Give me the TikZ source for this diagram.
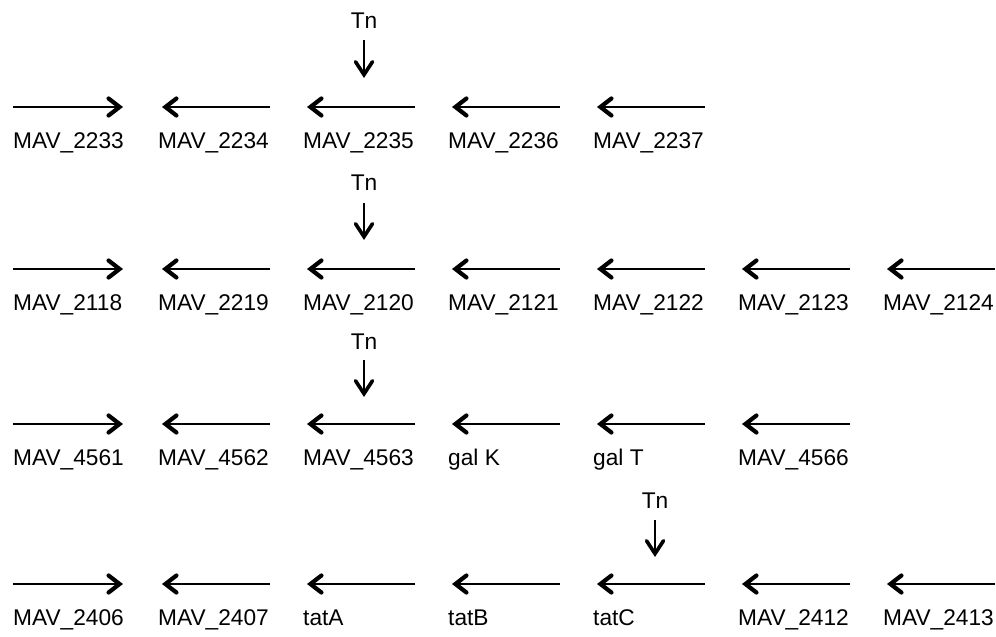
\documentclass[tikz,border=0pt]{standalone}
\usepackage{fontspec}
\setmainfont{Liberation Sans}
\usetikzlibrary{arrows.meta}
\tikzset{
  gene/.style={anchor=base west, inner sep=0pt, font=\fontsize{22.7}{25}\selectfont},
  tnlabel/.style={anchor=base, inner sep=0pt, font=\fontsize{22.7}{25}\selectfont},
  orf/.style={line width=2.3pt, -{Straight Barb[length=11pt,width=17pt,line width=4.2pt,line cap=round]}},
  insert/.style={line width=2pt, -{Straight Barb[length=13pt,width=17pt,line width=3.6pt,line cap=round]}}
}
\begin{document}
\begin{tikzpicture}[x=1pt,y=-1pt]
\useasboundingbox (0,0) rectangle (996,637);
% one row per locus: arrow height, label baseline, number of reverse genes, names
\foreach \r/\ay/\ly/\n/\names in {
  1/107/148/4/{MAV\_2233,MAV\_2234,MAV\_2235,MAV\_2236,MAV\_2237},
  2/269/310/6/{MAV\_2118,MAV\_2219,MAV\_2120,MAV\_2121,MAV\_2122,MAV\_2123,MAV\_2124},
  3/424/465/5/{MAV\_4561,MAV\_4562,MAV\_4563,gal K,gal T,MAV\_4566},
  4/584/625/6/{MAV\_2406,MAV\_2407,tatA,tatB,tatC,MAV\_2412,MAV\_2413}}{
  \foreach \g [count=\i from 0] in \names {
    \node[gene] (g\r-\i) at ({13+145*\i},\ly) {\g};
  }
  % first gene reads forward
  \coordinate (s\r-0) at (13,\ay);
  \coordinate (e\r-0) at (123,\ay);
  \draw[orf] (s\r-0) -- (e\r-0);
  % the rest read in reverse
  \foreach \i in {1,...,\n}{
    \coordinate (s\r-\i) at ({270+145*(\i-1)},\ay);
    \coordinate (e\r-\i) at ({162+145*(\i-1)},\ay);
    \draw[orf] (s\r-\i) -- (e\r-\i);
  }
}
% transposon insertion sites
\foreach \k/\x/\ty/\ya/\yb in {1/364/28/40/78, 2/364/190/203/240, 3/364/349/360/397, 4/655/508/520/557}{
  \node[tnlabel] (tn\k) at (\x,\ty) {Tn};
  \coordinate (ta\k) at (\x,\ya);
  \coordinate (tb\k) at (\x,\yb);
  \draw[insert] (ta\k) -- (tb\k);
}
\end{tikzpicture}
\end{document}
